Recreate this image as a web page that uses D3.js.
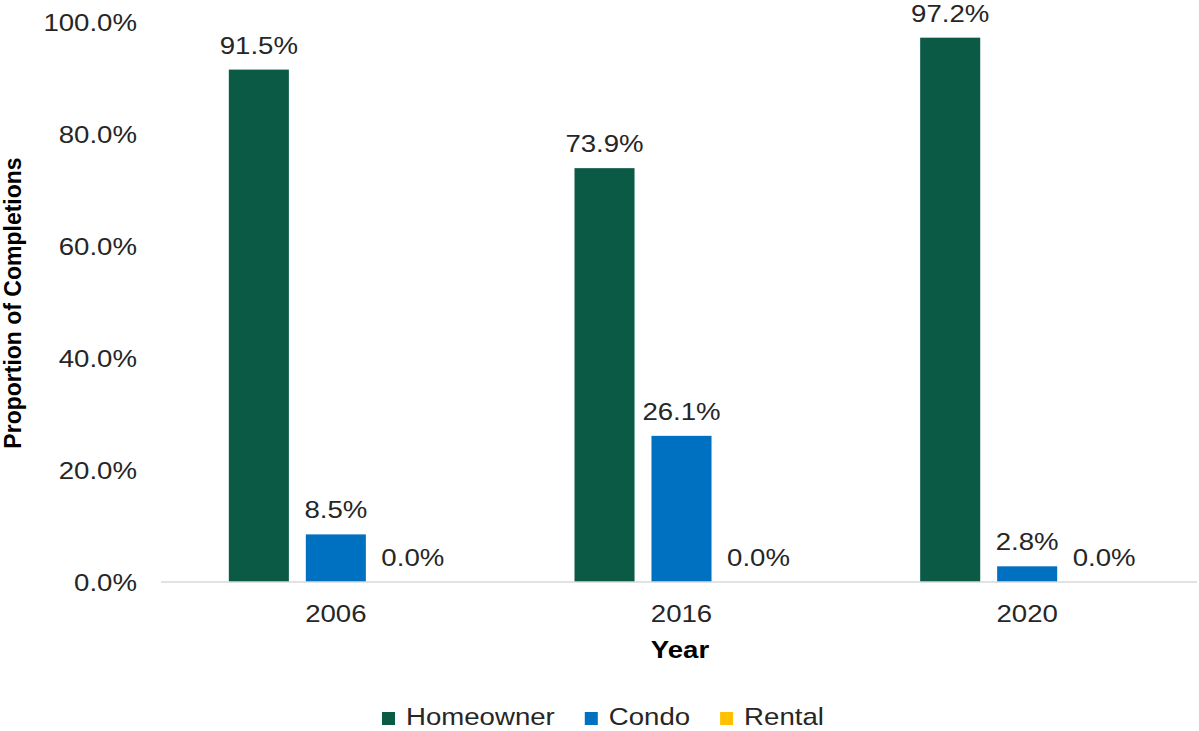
<!DOCTYPE html>
<html>
<head>
<meta charset="utf-8">
<script src="https://cdn.jsdelivr.net/npm/d3@7"></script>
<style>
    body { margin: 0; background: #ffffff; }
    text { font-family: "Liberation Sans", Arial, sans-serif; }
</style>
</head>
<body>
<svg id="chart_svg"></svg>
<script>
"use strict";

const width = 1199;
const height = 731;

// data
const years = ["2006", "2016", "2020"];
const series = ["Homeowner", "Condo", "Rental"];
const homeowner = [0.915, 0.739, 0.972];
const condo = [0.085, 0.261, 0.028];
const rental = [0.0, 0.0, 0.0];
const y_ticks = [0, 0.2, 0.4, 0.6, 0.8, 1.0];

const series_values = [homeowner, condo, rental];
const colors = ["#0b5a46", "#0070c0", "#ffc000"];

const stretch = 1.15;
const font_size = 24;
const text_color = "#262626";

const svg = d3.select("#chart_svg")
    .attr("width", width)
    .attr("height", height);

const yScale = d3.scaleLinear()
    .domain([0, 1])
    .range([582, 22]);

const xScale = d3.scaleBand()
    .domain(years)
    .range([163, 1200]);

const subScale = d3.scaleBand()
    .domain(series)
    .range([-107, 107])
    .paddingInner(0.22);

// flatten rows for bars
const rows = [];
years.forEach((yr, i) => {
    series.forEach((s, j) => {
        rows.push({ year: yr, key: s, value: series_values[j][i], color: colors[j] });
    });
});

// y axis (labels only)
const yAxis = svg.append("g")
    .attr("transform", "translate(161,0)")
    .call(d3.axisLeft(yScale).tickValues(y_ticks).tickSize(0).tickFormat(d3.format(".1%")));

yAxis.select(".domain").remove();
yAxis.selectAll("text")
    .attr("x", 0)
    .attr("dy", "0.35em")
    .attr("transform", `translate(-24,0) scale(${stretch},1)`)
    .style("font-size", font_size + "px")
    .style("font-family", "'Liberation Sans', Arial, sans-serif")
    .attr("fill", text_color);

// bars
svg.append("g")
    .selectAll("rect")
    .data(rows)
    .enter()
    .append("rect")
    .attr("x", d => xScale(d.year) + xScale.bandwidth() / 2 + subScale(d.key))
    .attr("y", d => yScale(d.value))
    .attr("width", subScale.bandwidth())
    .attr("height", d => yScale(0) - yScale(d.value))
    .attr("fill", d => d.color);

// baseline
svg.append("line")
    .attr("x1", 161)
    .attr("x2", 1197)
    .attr("y1", yScale(0))
    .attr("y2", yScale(0))
    .attr("stroke", "#d9d9d9")
    .attr("stroke-width", 1.5);

// value labels
svg.append("g")
    .selectAll("text")
    .data(rows)
    .enter()
    .append("text")
    .attr("transform", d => {
        const cx = xScale(d.year) + xScale.bandwidth() / 2 + subScale(d.key) + subScale.bandwidth() / 2;
        return `translate(${cx},${yScale(d.value) - 16}) scale(${stretch},1)`;
    })
    .attr("text-anchor", "middle")
    .style("font-size", font_size + "px")
    .attr("fill", text_color)
    .text(d => d3.format(".1%")(d.value));

// x tick labels
svg.append("g")
    .selectAll("text")
    .data(years)
    .enter()
    .append("text")
    .attr("transform", d => `translate(${xScale(d) + xScale.bandwidth() / 2},622) scale(${stretch},1)`)
    .attr("text-anchor", "middle")
    .style("font-size", font_size + "px")
    .attr("fill", text_color)
    .text(d => d);

// axis titles
svg.append("text")
    .attr("transform", `translate(680,658) scale(${stretch},1)`)
    .attr("text-anchor", "middle")
    .style("font-size", font_size + "px")
    .style("font-weight", "bold")
    .attr("fill", "#000000")
    .text("Year");

svg.append("text")
    .attr("transform", "translate(13,303) rotate(-90)")
    .attr("text-anchor", "middle")
    .attr("dominant-baseline", "central")
    .style("font-size", "23px")
    .style("font-weight", "bold")
    .attr("fill", "#000000")
    .text("Proportion of Completions");

// legend
const legend = svg.append("g").attr("transform", "translate(382,712)");
let lx = 0;
series.forEach((s, i) => {
    legend.append("rect")
        .attr("x", lx)
        .attr("y", 0)
        .attr("width", 13)
        .attr("height", 13)
        .attr("fill", colors[i]);
    const t = legend.append("text")
        .attr("transform", `translate(${lx + 24},13) scale(${stretch},1)`)
        .style("font-size", font_size + "px")
        .attr("fill", text_color)
        .text(s);
    lx += 24 + t.node().getComputedTextLength() * stretch + 30;
});
</script>
</body>
</html>
